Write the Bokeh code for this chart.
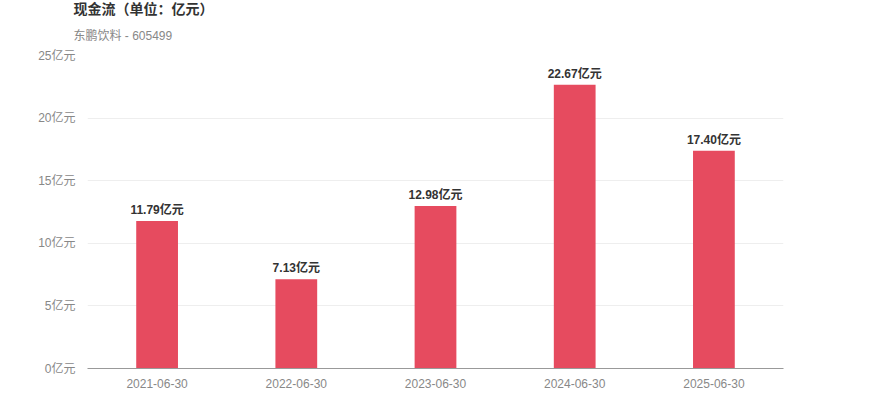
from bokeh.plotting import figure
from bokeh.models import ColumnDataSource, Title, PrintfTickFormatter, FixedTicker
from bokeh.core.properties import value
from bokeh.embed import file_html
from bokeh.resources import INLINE

dates = ["2021-06-30", "2022-06-30", "2023-06-30", "2024-06-30", "2025-06-30"]
cash_flow = [11.79, 7.13, 12.98, 22.67, 17.40]
y_ticks = [0, 5, 10, 15, 20, 25]

FONT = "'Liberation Sans', 'Noto Sans CJK SC', sans-serif"

labels = [f"{v:.2f}亿元" for v in cash_flow]
src = ColumnDataSource(dict(x=dates, y=cash_flow, label=labels))

p = figure(x_range=dates, y_range=(0, 25), width=854, height=401,
           output_backend="svg", toolbar_location=None,
           min_border_left=87, min_border_right=71, min_border_bottom=33, min_border_top=0)
p.title.visible = False
p.add_layout(Title(text="东鹏饮料 - 605499", text_font=FONT, text_font_size="12px",
                   text_color="#888888", text_font_style="normal", align="left", offset=-14,
                   standoff=21, vertical_align="top"), "above")
p.add_layout(Title(text="现金流（单位：亿元）", text_font=FONT, text_font_size="14px",
                   text_color="#333333", text_font_style="bold", align="left", offset=-14,
                   standoff=0, vertical_align="top"), "above")

p.vbar(x="x", top="y", width=0.3, source=src, color="#E64B5F", line_color=None)
p.text(x="x", y="y", text="label", source=src, text_align="center", text_baseline="bottom",
       y_offset=-4, text_font=value(FONT), text_font_size="12px", text_font_style="bold",
       text_color="#333333")

p.outline_line_color = None
p.xgrid.grid_line_color = None
p.ygrid.grid_line_color = "#EEEEEE"
p.yaxis.ticker = FixedTicker(ticks=y_ticks)
p.yaxis.formatter = PrintfTickFormatter(format="%d亿元")
p.yaxis.axis_line_color = None
p.yaxis.major_tick_line_color = None
p.yaxis.minor_tick_line_color = None
p.yaxis.major_label_text_color = "#888888"
p.yaxis.major_label_text_font = FONT
p.yaxis.major_label_text_font_size = "12px"
p.yaxis.major_label_standoff = 6
p.xaxis.axis_line_color = "#999999"
p.xaxis.major_tick_line_color = None
p.xaxis.minor_tick_line_color = None
p.xaxis.major_label_text_color = "#888888"
p.xaxis.major_label_text_font = FONT
p.xaxis.major_label_text_font_size = "12px"
p.xaxis.major_label_standoff = 4
p.x_range.range_padding = 0

open("out.html", "w").write(file_html(p, INLINE))
